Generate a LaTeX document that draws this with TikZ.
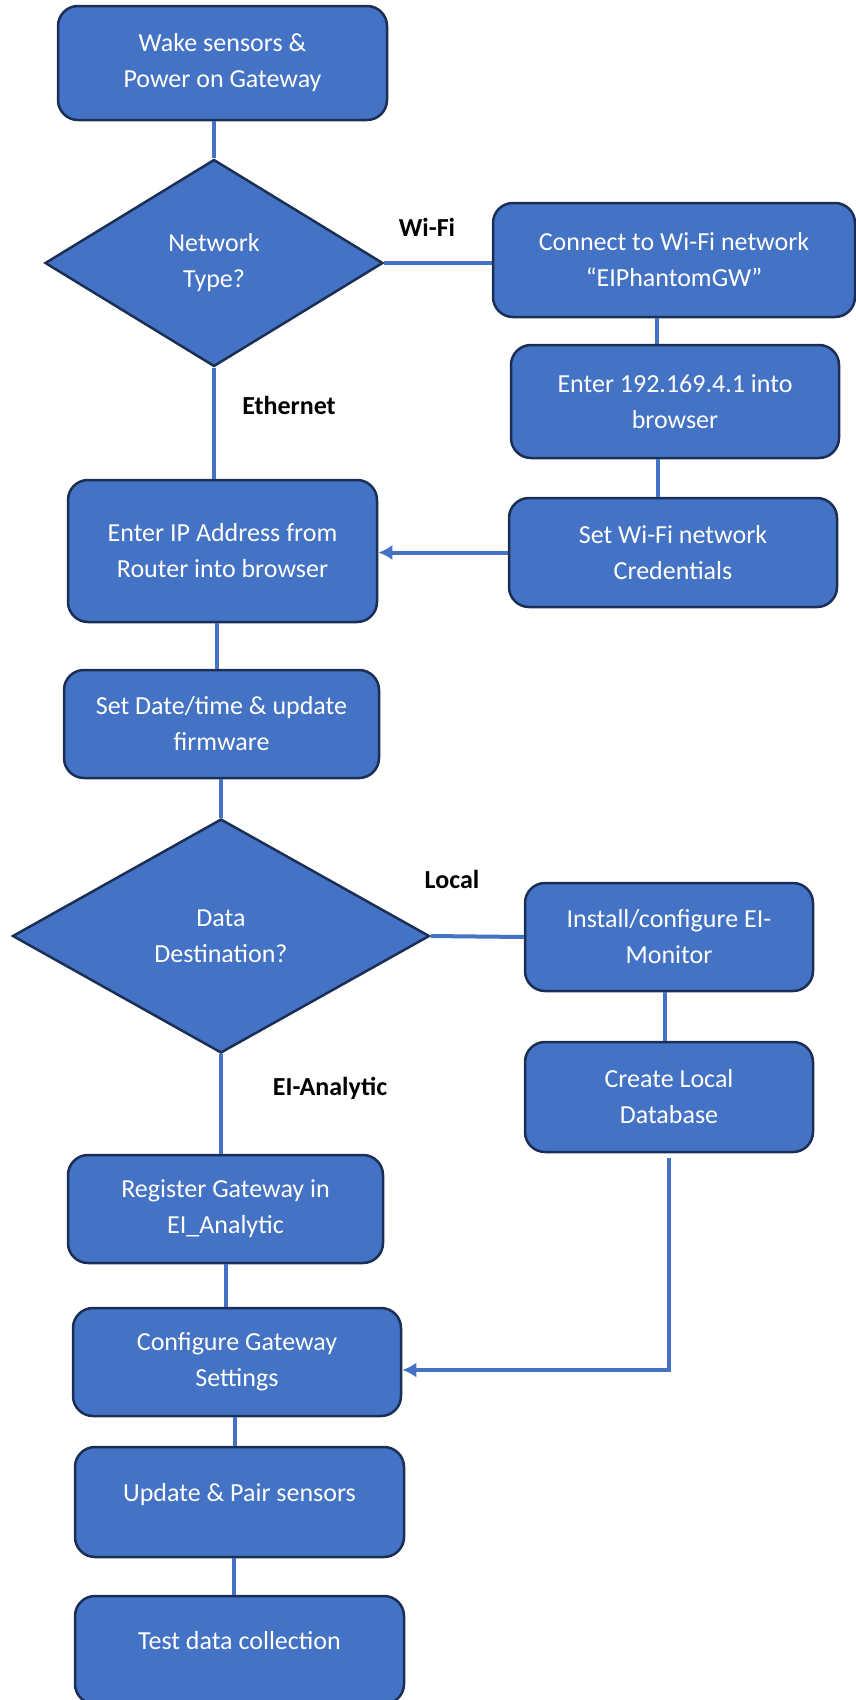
\documentclass[tikz,border=0pt]{standalone}
\usepackage{fontspec}
\setmainfont{Carlito}
\usetikzlibrary{shapes.geometric,arrows.meta}
\definecolor{stepblue}{HTML}{4472C4}
\definecolor{stepedge}{HTML}{1B2F55}
\tikzset{ % Common styles, so we don't repeat ourselves
	flowbox/.style={
		rectangle, rounded corners=20pt, % Process box
		draw=stepedge, line width=2.5pt, fill=stepblue,
		text=white, align=center, inner sep=0pt,
		font=\fontsize{26}{36}\selectfont
	},
	choice/.style={
		diamond, % Decision box
		draw=stepedge, line width=2.5pt, fill=stepblue,
		text=white, align=center, inner sep=0pt,
		font=\fontsize{26}{36}\selectfont
	},
	link/.style={stepblue, line width=4pt}, % Connector lines
	tolink/.style={link, -{Latex[length=14pt,width=15pt]}},
	branch/.style={font=\bfseries\fontsize{26}{30}\selectfont} % Branch labels
}
\begin{document}
\begin{tikzpicture}[x=1pt,y=-1pt]
		\useasboundingbox (0,0) rectangle (856,1700);
		% Draw main column
		\node[flowbox, minimum width=329pt, minimum height=114pt] (wake) at (222.5,63) {Wake sensors \&\\Power on Gateway};
		\node[choice, minimum width=338pt, minimum height=207pt] (netq) at (214,263) {Network\\Type?};
		\node[flowbox, minimum width=309pt, minimum height=142pt] (enterip) at (222.5,551) {Enter IP Address from\\Router into browser};
		\node[flowbox, minimum width=315pt, minimum height=108pt] (setdate) at (221.5,724) {Set Date/time \& update\\firmware};
		\node[choice, minimum width=417pt, minimum height=234pt] (dataq) at (221,936) {Data\\Destination?};
		\node[flowbox, minimum width=315pt, minimum height=108pt] (register) at (225.5,1209) {Register Gateway in\\EI\_Analytic};
		\node[flowbox, minimum width=328pt, minimum height=108pt] (configure) at (237,1362) {Configure Gateway\\Settings};
		\node[flowbox, minimum width=329pt, minimum height=110pt, text depth=20pt] (update) at (239.5,1502) {Update \& Pair sensors};
		\node[flowbox, minimum width=329pt, minimum height=108pt, text depth=20pt] (testdc) at (239.5,1650) {Test data collection};
		% Draw Wi-Fi column
		\node[flowbox, minimum width=362pt, minimum height=114pt] (wifi) at (674,260) {Connect to Wi-Fi network\\``EIPhantomGW''};
		\node[flowbox, minimum width=328pt, minimum height=113pt] (enterwifi) at (675,401.5) {Enter 192.169.4.1 into\\browser};
		\node[flowbox, minimum width=328pt, minimum height=109pt] (setwifi) at (673,552.5) {Set Wi-Fi network\\Credentials};
		% Draw Local column
		\node[flowbox, minimum width=288pt, minimum height=108pt] (install) at (669,937) {Install/configure EI-\\Monitor};
		\node[flowbox, minimum width=288pt, minimum height=110pt] (createdb) at (669,1097) {Create Local\\Database};
		% Draw branch labels
		\node[branch] (wifilbl) at (427,227) {Wi-Fi};
		\node[branch] (ethlbl) at (289,405) {Ethernet};
		\node[branch] (locallbl) at (452,879) {Local};
		\node[branch] (eilbl) at (330,1088) {EI-Analytic};
		% Draw connectors
		\draw[link] (netq.north |- wake.south) -- (netq.north);
		\draw[link] (netq.east) -- (netq.east -| wifi.west);
		\draw[link] ([xshift=-17pt]wifi.south) -- ([xshift=-17pt]wifi.south |- enterwifi.north);
		\draw[link] ([xshift=-17pt]enterwifi.south) -- ([xshift=-17pt]enterwifi.south |- setwifi.north);
		\draw[tolink] (setwifi.west) -- (setwifi.west -| enterip.east);
		\draw[link] (netq.south) -- (netq.south |- enterip.north);
		\draw[link] ([xshift=-6pt]enterip.south) -- ([xshift=-6pt]enterip.south |- setdate.north);
		\draw[link] (dataq.north |- setdate.south) -- (dataq.north);
		\draw[link] (dataq.east) -- (install.west);
		\draw[link] ([xshift=-4pt]install.south) -- ([xshift=-4pt]createdb.north);
		\draw[link] (dataq.south) -- (dataq.south |- register.north);
		\draw[link] (register.south) -- (register.south |- configure.north);
		\draw[tolink] ([yshift=-5pt]createdb.south) |- ([yshift=-8pt]configure.east);
		\draw[link] ([xshift=-5pt]update.north |- configure.south) -- ([xshift=-5pt]update.north);
		\draw[link] ([xshift=-6pt]update.south) -- ([xshift=-6pt]testdc.north);
\end{tikzpicture}
\end{document}
